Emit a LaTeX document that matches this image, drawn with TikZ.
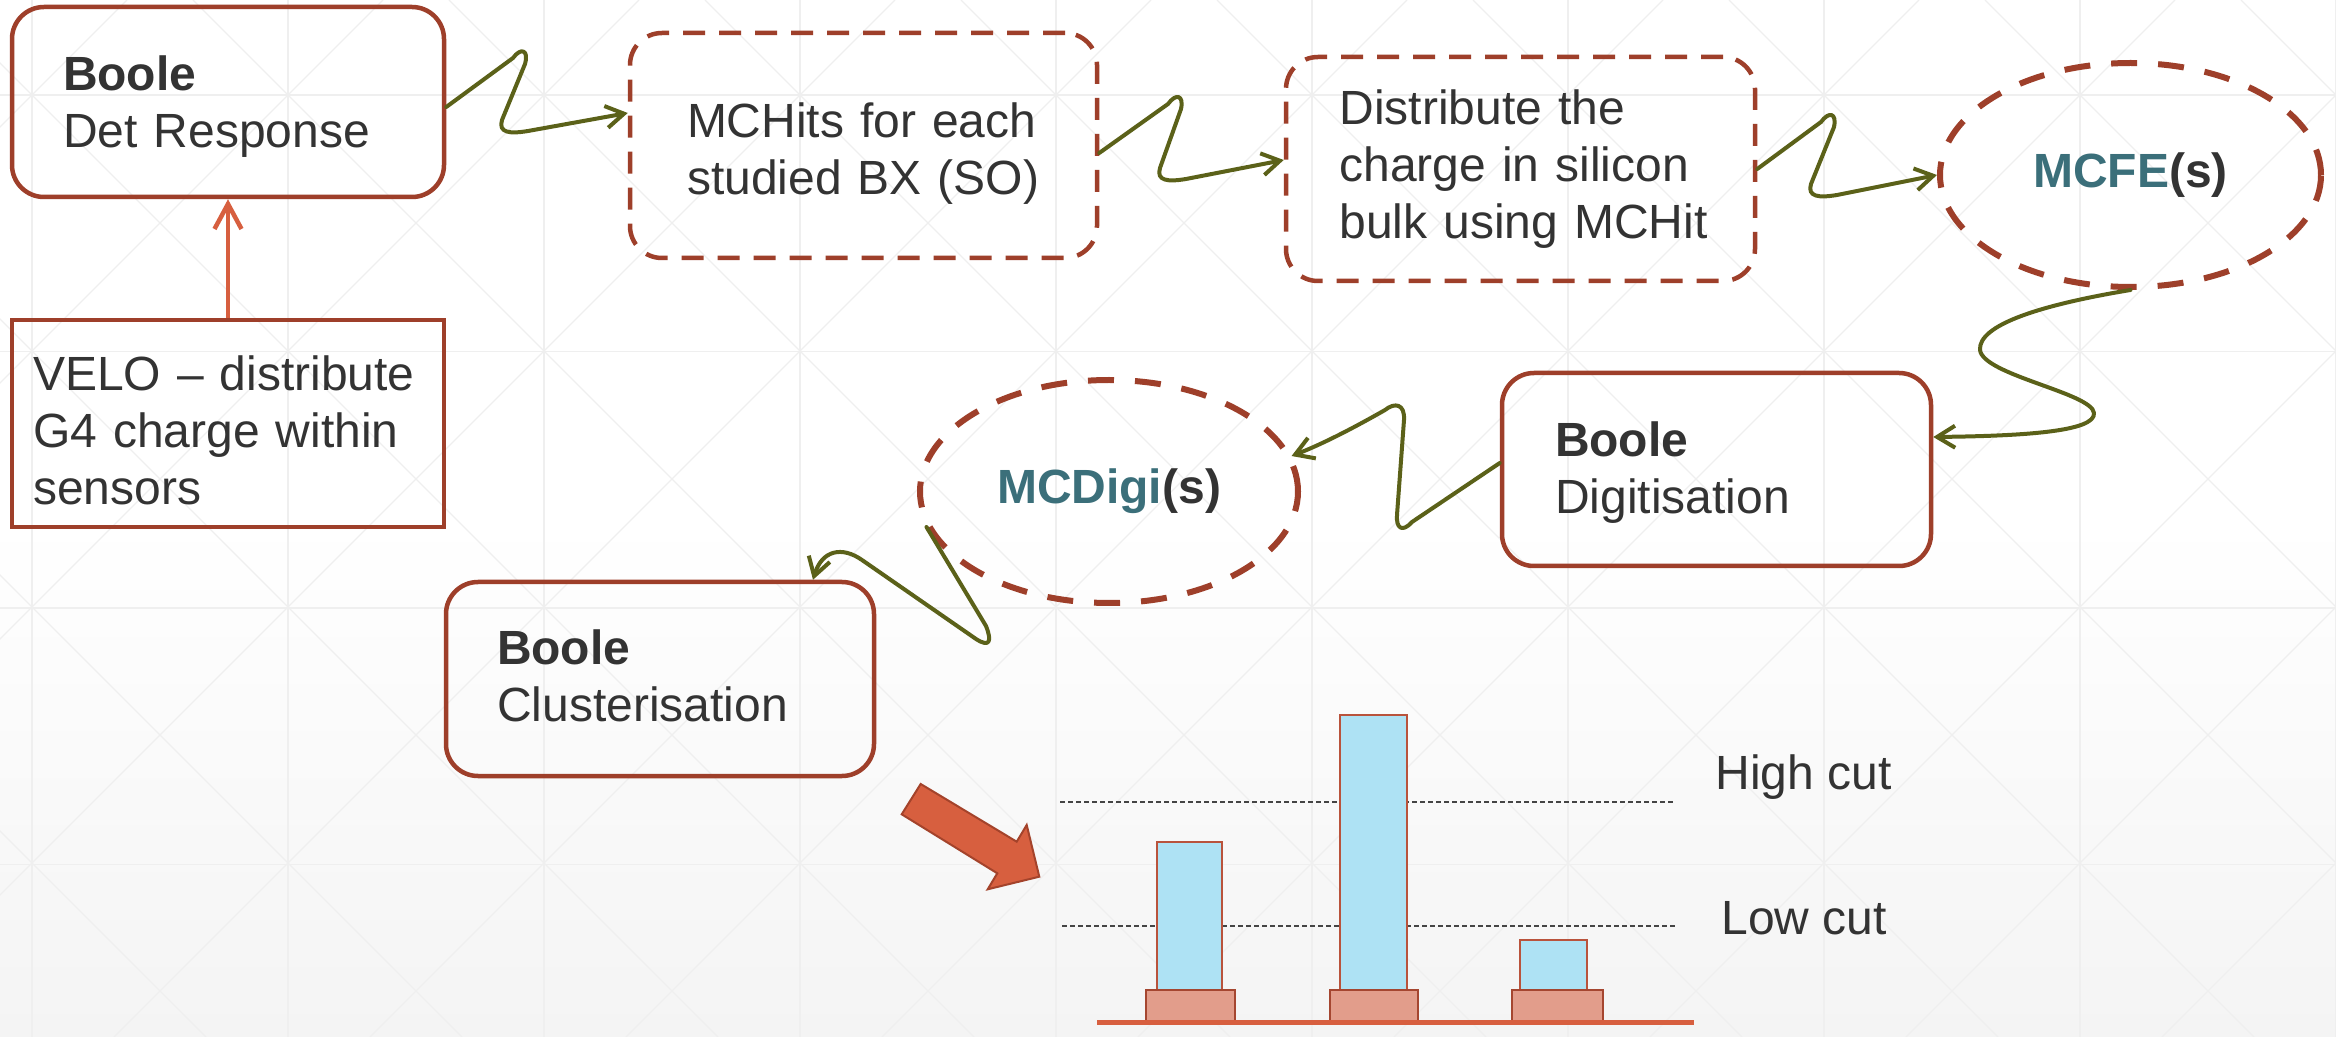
\documentclass[tikz,border=0pt]{standalone}
\usepackage{fontspec}
\setmainfont{Liberation Sans}
\usetikzlibrary{arrows.meta,shapes.geometric}

\definecolor{boxbrown}{HTML}{9E3F2A}
\definecolor{flowolive}{HTML}{5B6119}
\definecolor{accent}{HTML}{D75F3F}
\definecolor{accentdark}{HTML}{A4432B}
\definecolor{mcteal}{HTML}{3B6F7A}
\definecolor{txt}{HTML}{333333}
\definecolor{barblue}{HTML}{AEE2F4}
\definecolor{barblueline}{HTML}{B9533C}
\definecolor{barpink}{HTML}{E29D8B}
\definecolor{barpinkline}{HTML}{A54630}
\definecolor{gridl}{HTML}{EFEFEF}
\definecolor{bgbottom}{HTML}{F4F4F4}
\definecolor{cutgray}{HTML}{444444}

\tikzset{
  bodyfont/.style={font=\fontsize{24}{28.5}\selectfont},
  solidbox/.style={draw=boxbrown, line width=2.25pt, rounded corners=16pt,
    align=left, text=txt, bodyfont, inner sep=0pt},
  dashbox/.style={solidbox, dash pattern=on 11pt off 7pt},
  sharpbox/.style={solidbox, rounded corners=0pt},
  ovalnode/.style={ellipse, draw=boxbrown, line width=3pt,
    dash pattern=on 13pt off 10.5pt, inner sep=0pt, text=txt,
    font=\bfseries\fontsize{24}{28.5}\selectfont},
  flow/.style={draw=flowolive, line width=2pt,
    line cap=round, line join=round,
    -{Straight Barb[length=9pt,width=11pt,line width=2pt]}},
  feed/.style={draw=accent, line width=2.25pt,
    -{Straight Barb[length=12.5pt,width=13.5pt,line width=2.25pt]}},
  gridline/.style={draw=gridl, line width=0.6pt},
  bluebar/.style={draw=barblueline, line width=1pt, fill=barblue},
  pinkbase/.style={draw=barpinkline, line width=1.25pt, fill=barpink},
  cutline/.style={draw=cutgray, line width=0.7pt, dash pattern=on 2.5pt off 1.5pt},
  cutlabel/.style={anchor=base west, inner sep=0pt, text=txt, bodyfont},
}

\begin{document}
\begin{tikzpicture}[x=0.5pt, y=-0.5pt]
% page background with a faint triangular grid
\useasboundingbox (0,0) rectangle (2336,1037);
\shade[top color=white, bottom color=bgbottom, middle color=white] (0,0) rectangle (2336,1037);
\begin{scope}
  \clip (0,0) rectangle (2336,1037);
  \foreach \y in {95,351.5,608,864.5} \draw[gridline] (0,\y) -- (2336,\y);
  \foreach \x in {32,288,...,2336} \draw[gridline] (\x,0) -- (\x,1037);
  \foreach \c in {-1087,-831,...,2400} \draw[gridline] (\c,0) -- ++(1037,1037);
  \foreach \c in {127,383,...,3500} \draw[gridline] (\c,0) -- ++(-1037,1037);
\end{scope}

% processing steps
\node[solidbox, minimum width=216pt, minimum height=95pt, text width=165pt, text height=21.7pt]
  (detresp) at (228,102) {\textbf{Boole}\\Det Response};
\node[sharpbox, minimum width=216pt, minimum height=103.5pt, text width=195pt, text height=24.7pt]
  (velo) at (228,423.5) {VELO – distribute\\G4 charge within\\sensors};
\node[dashbox, minimum width=233.5pt, minimum height=112.5pt, text width=176.5pt, text height=25.2pt]
  (mchits) at (863.5,145.5) {MCHits for each\\studied BX (SO)};
\node[dashbox, minimum width=234.5pt, minimum height=112pt, text width=190pt,
  execute at begin node={\leftskip=4.5pt}]
  (distr) at (1520.5,169) {Distribute the\\charge in silicon\\bulk using MCHit};
\node[ovalnode, minimum width=190.5pt, minimum height=112pt]
  (mcfe) at (2130.5,175) {\textcolor{mcteal}{MCFE}(s)};
\node[solidbox, minimum width=214.5pt, minimum height=96.5pt, text width=161.5pt, text height=20.9pt]
  (digit) at (1716.5,469.5) {\textbf{Boole}\\Digitisation};
\node[ovalnode, minimum width=189pt, minimum height=111.5pt]
  (mcdigi) at (1109,491.5) {\textcolor{mcteal}{MCDigi}(s)};
\node[solidbox, minimum width=214pt, minimum height=97pt, text width=163pt, text height=14.2pt]
  (clust) at (660,679) {\textbf{Boole}\\Clusterisation};

% connectors
\draw[feed] (velo.north) -- (detresp.south);
\draw[flow] ([yshift=-2.5pt]detresp.east) -- (513,58)
  .. controls (521,47) and (529,50) .. (525,64) -- (502,120)
  .. controls (498,133) and (510,134) .. (528,131)
  -- ([yshift=16.25pt]mchits.west);
\draw[flow] ([yshift=-3.75pt]mchits.east) -- (1168,104)
  .. controls (1176,93) and (1184,95) .. (1181,109) -- (1160,168)
  .. controls (1156,181) and (1168,182) .. (1186,179)
  -- ([yshift=4.5pt]distr.west);
\draw[flow] (distr.east) -- (1821,122)
  .. controls (1829,111) and (1837,113) .. (1834,127) -- (1811,184)
  .. controls (1807,197) and (1819,198) .. (1837,195)
  -- (mcfe.west);
\draw[flow] (mcfe.south)
  .. controls (2040,305) and (1978,325) .. (1980,350)
  .. controls (1983,375) and (2092,393) .. (2094,413)
  .. controls (2096,432) and (2020,436) .. ([yshift=16.25pt]digit.east);
\draw[flow] ([yshift=3.25pt]digit.west) -- (1412,522)
  .. controls (1402,533) and (1396,528) .. (1397,515) -- (1404,420)
  .. controls (1405,404) and (1395,402) .. (1385,410)
  .. controls (1350,430) and (1320,445) .. (mcdigi.11);
\draw[flow] (mcdigi.191) -- (986,626)
  .. controls (992,641) and (990,648) .. (976,639) -- (862,560)
  .. controls (842,546) and (822,550) .. ([xshift=76.5pt]clust.north);

% block arrow towards the cluster sketch
\filldraw[fill=accent, draw=accentdark, line width=1pt, line join=miter]
  (920.7,784) -- (1016.7,841.7) -- (1026.7,825) -- (1039.3,876.7)
  -- (987.7,889.3) -- (997.3,873.3) -- (901.7,814.3) -- cycle;

% strip charges with thresholds
\draw[cutline] (1060,802) -- (1673,802);
\draw[cutline] (1062,926) -- (1676,926);
\draw[bluebar] (1157,842) rectangle (1222,990);
\draw[bluebar] (1340,715) rectangle (1407,990);
\draw[bluebar] (1520,940) rectangle (1587,990);
\draw[pinkbase] (1146,990) rectangle (1235,1022);
\draw[pinkbase] (1330,990) rectangle (1418,1022);
\draw[pinkbase] (1512,990) rectangle (1603,1022);
\draw[draw=accent, line width=2.5pt] (1097,1022) -- (1694,1022);
\node[cutlabel] (hicut) at (1715,789) {High cut};
\node[cutlabel] (locut) at (1721,934) {Low cut};
\end{tikzpicture}
\end{document}
